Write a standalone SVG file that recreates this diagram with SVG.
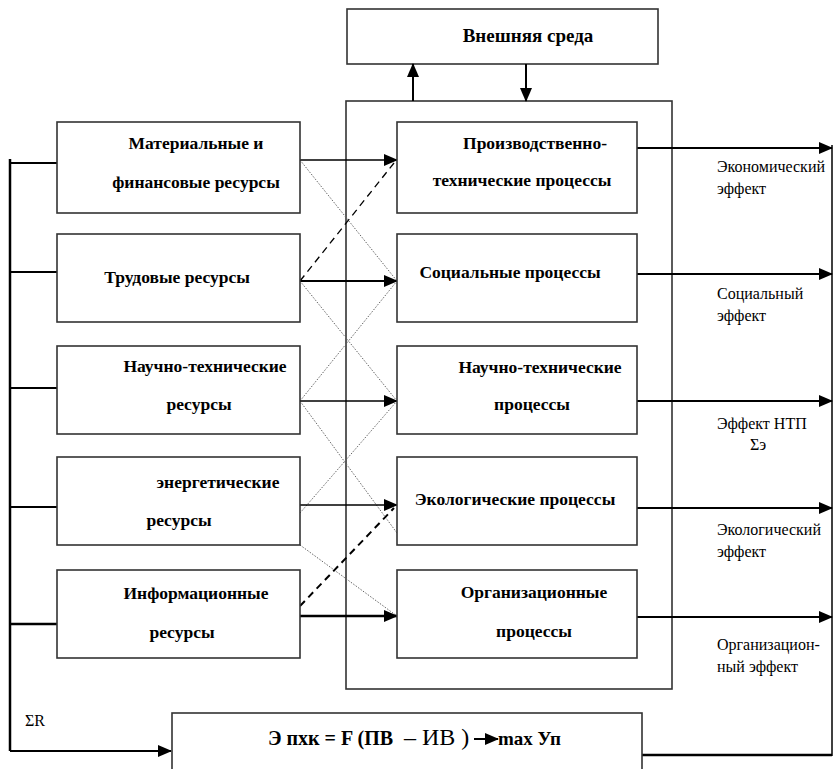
<svg xmlns="http://www.w3.org/2000/svg" width="833" height="769" viewBox="0 0 833 769">
<defs>
<marker id="ah" markerUnits="userSpaceOnUse" markerWidth="14" markerHeight="12" refX="13" refY="6" orient="auto">
<path d="M0,0 L14,6 L0,12 Z" fill="#000"/>
</marker>
</defs>
<style>
.box{fill:#fff;stroke:#333;stroke-width:1.6}
.ln{stroke:#000;fill:none}
.dot{stroke:#666;stroke-width:1;stroke-dasharray:1.5 1.5;fill:none}
.dash{stroke:#000;stroke-dasharray:7 5;fill:none}
text{font-family:"Liberation Serif","Times New Roman",Tinos,"DejaVu Serif",serif;fill:#000}
.bt{font-weight:bold;font-size:17.5px;text-anchor:middle}
.lt{font-size:16px}
</style>
<rect width="833" height="769" fill="#fff"/>
<g id="container"><rect x="346" y="101" width="326" height="588" style="fill:none;stroke:#333;stroke-width:1.6"/></g>
<g id="env"><rect class="box" x="347" y="9" width="311" height="55"/><text class="bt" x="528" y="42" style="font-size:19px">Внешняя среда</text></g>
<g id="connectors">
<line class="ln" x1="10" y1="159" x2="10" y2="751" stroke-width="2.5"/>
<line class="ln" x1="10" y1="163" x2="57" y2="163" stroke-width="2"/>
<line class="ln" x1="10" y1="272" x2="57" y2="272" stroke-width="2"/>
<line class="ln" x1="10" y1="388" x2="57" y2="388" stroke-width="2"/>
<line class="ln" x1="10" y1="507" x2="57" y2="507" stroke-width="2"/>
<line class="ln" x1="10" y1="624" x2="57" y2="624" stroke-width="2.5"/>
<line class="ln" x1="10" y1="751" x2="171" y2="751" stroke-width="2" marker-end="url(#ah)"/>
<line class="ln" x1="413" y1="101" x2="413" y2="64" stroke-width="2" marker-end="url(#ah)"/>
<line class="ln" x1="526" y1="64" x2="526" y2="101" stroke-width="2" marker-end="url(#ah)"/>
<line class="dot" x1="300" y1="160" x2="397" y2="281"/>
<line class="dot" x1="300" y1="281" x2="397" y2="401"/>
<line class="dot" x1="300" y1="401" x2="397" y2="281"/>
<line class="dot" x1="300" y1="401" x2="397" y2="533"/>
<line class="dot" x1="300" y1="513" x2="397" y2="401"/>
<line class="dot" x1="300" y1="545" x2="397" y2="616"/>
<line class="dash" x1="300" y1="281" x2="394" y2="163" stroke-width="1.3"/>
<line class="dash" x1="300" y1="606" x2="394" y2="508" stroke-width="2"/>
<line class="ln" x1="300" y1="160" x2="397" y2="160" stroke-width="1.3" marker-end="url(#ah)"/>
<line class="ln" x1="300" y1="281" x2="397" y2="281" stroke-width="2" marker-end="url(#ah)"/>
<line class="ln" x1="300" y1="401" x2="397" y2="401" stroke-width="1.6" marker-end="url(#ah)"/>
<line class="ln" x1="300" y1="505" x2="397" y2="505" stroke-width="1.6" marker-end="url(#ah)"/>
<line class="ln" x1="300" y1="616" x2="397" y2="616" stroke-width="2.5" marker-end="url(#ah)"/>
<line class="ln" x1="637" y1="148" x2="832" y2="148" stroke-width="2" marker-end="url(#ah)"/>
<line class="ln" x1="637" y1="274" x2="832" y2="274" stroke-width="2" marker-end="url(#ah)"/>
<line class="ln" x1="637" y1="401" x2="832" y2="401" stroke-width="2" marker-end="url(#ah)"/>
<line class="ln" x1="637" y1="508" x2="832" y2="508" stroke-width="2" marker-end="url(#ah)"/>
<line class="ln" x1="637" y1="617" x2="832" y2="617" stroke-width="2" marker-end="url(#ah)"/>
<line class="ln" x1="832" y1="145" x2="832" y2="756" stroke-width="1.5"/>
<line class="ln" x1="642" y1="755" x2="832" y2="755" stroke-width="2.5"/>
</g>
<g id="res1"><rect class="box" x="57" y="122" width="243" height="91"/><text class="bt" x="196" y="149">Материальные и</text><text class="bt" x="196" y="188">финансовые ресурсы</text></g>
<g id="res2"><rect class="box" x="57" y="234" width="243" height="88"/><text class="bt" x="177" y="283">Трудовые ресурсы</text></g>
<g id="res3"><rect class="box" x="57" y="346" width="243" height="88"/><text class="bt" x="205" y="372">Научно-технические</text><text class="bt" x="199" y="410">ресурсы</text></g>
<g id="res4"><rect class="box" x="57" y="457" width="243" height="88"/><text class="bt" x="218" y="488">энергетические</text><text class="bt" x="179" y="526">ресурсы</text></g>
<g id="res5"><rect class="box" x="57" y="570" width="243" height="88"/><text class="bt" x="196" y="599">Информационные</text><text class="bt" x="182" y="638">ресурсы</text></g>
<g id="proc1"><rect class="box" x="397" y="122" width="240" height="91"/><text class="bt" x="535" y="149">Производственно-</text><text class="bt" x="522" y="186">технические процессы</text></g>
<g id="proc2"><rect class="box" x="397" y="234" width="240" height="88"/><text class="bt" x="510" y="278">Социальные процессы</text></g>
<g id="proc3"><rect class="box" x="397" y="346" width="240" height="88"/><text class="bt" x="540" y="373">Научно-технические</text><text class="bt" x="532" y="410">процессы</text></g>
<g id="proc4"><rect class="box" x="397" y="457" width="240" height="88"/><text class="bt" x="515" y="505">Экологические процессы</text></g>
<g id="proc5"><rect class="box" x="397" y="570" width="240" height="88"/><text class="bt" x="534" y="598">Организационные</text><text class="bt" x="534" y="637">процессы</text></g>
<g id="labels">
<text class="lt" x="717" y="172">Экономический</text>
<text class="lt" x="717" y="194">эффект</text>
<text class="lt" x="717" y="299">Социальный</text>
<text class="lt" x="717" y="321">эффект</text>
<text class="lt" x="717" y="429">Эффект НТП</text>
<text class="lt" x="750" y="450">Σэ</text>
<text class="lt" x="717" y="535">Экологический</text>
<text class="lt" x="717" y="557">эффект</text>
<text class="lt" x="717" y="650">Организацион-</text>
<text class="lt" x="717" y="672">ный эффект</text>
<text class="lt" x="25" y="726">ΣR</text>
</g>
<g id="formula"><rect class="box" x="172" y="713" width="470" height="70"/>
<text y="745"><tspan x="268" font-weight="bold" font-size="20">Э пхк = F (ПВ</tspan><tspan x="404" font-size="24">– ИВ )</tspan><tspan x="498" font-weight="bold" font-size="19">max Уп</tspan></text>
<line class="ln" x1="474" y1="739" x2="498" y2="739" stroke-width="2" marker-end="url(#ah)"/>
</g>
</svg>
